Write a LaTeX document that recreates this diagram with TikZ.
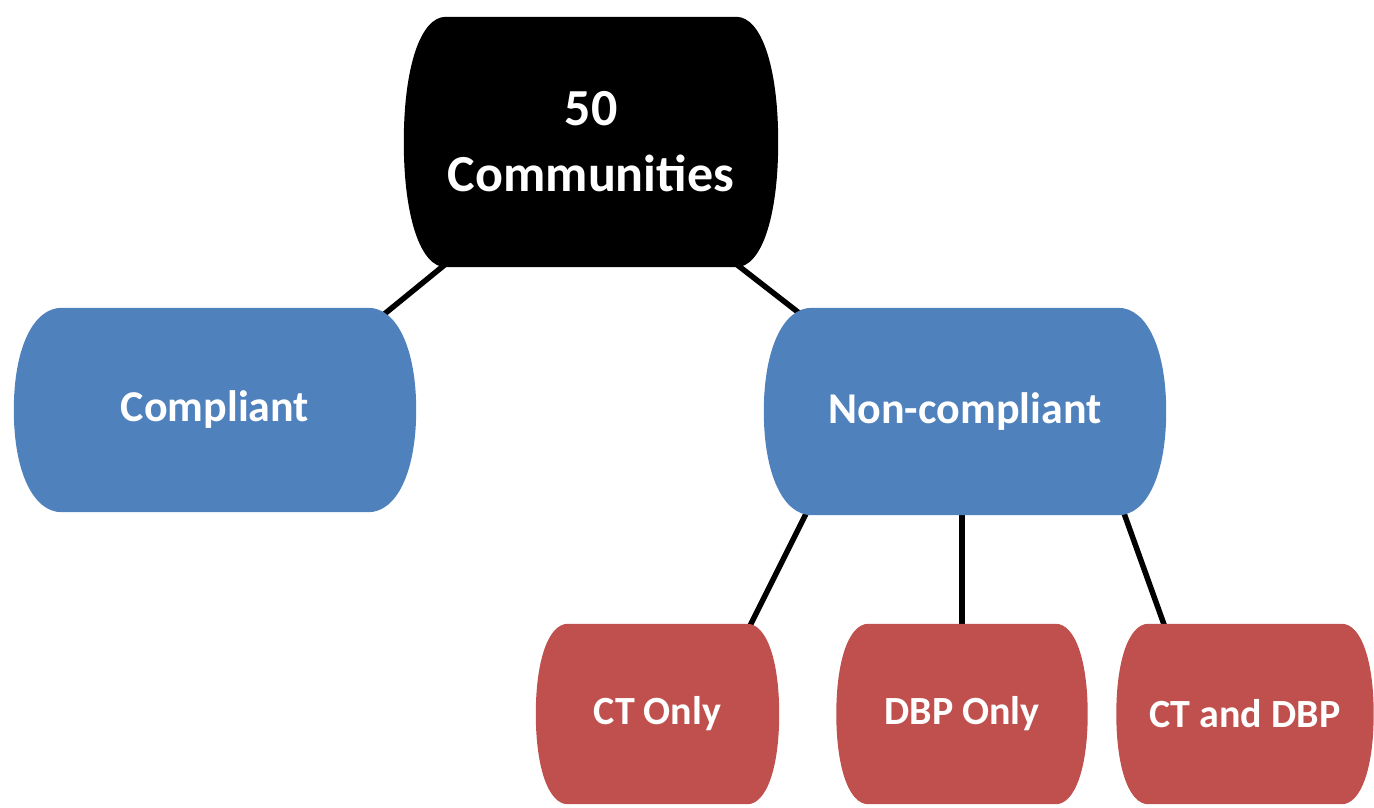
\documentclass[tikz,border=0pt]{standalone}
\usepackage{fontspec}
\setmainfont{Carlito}
\usetikzlibrary{backgrounds,calc}

\definecolor{boxblue}{HTML}{4F81BD}
\definecolor{boxred}{HTML}{C0504D}

% barrel shaped fill behind a node: node, side bulge, colour
\newcommand{\barrelfill}[3]{%
  \fill[#3] ([xshift=#2]#1.north west) -- ([xshift=-#2]#1.north east)
    .. controls ([xshift=-0.4*#2]#1.north east) and ($(#1.east)!0.6!(#1.north east)$) .. (#1.east)
    .. controls ($(#1.east)!0.6!(#1.south east)$) and ([xshift=-0.4*#2]#1.south east) .. ([xshift=-#2]#1.south east)
    -- ([xshift=#2]#1.south west)
    .. controls ([xshift=0.4*#2]#1.south west) and ($(#1.west)!0.6!(#1.south west)$) .. (#1.west)
    .. controls ($(#1.west)!0.6!(#1.north west)$) and ([xshift=0.4*#2]#1.north west) .. cycle;}

\tikzset{
  boxtext/.style={text=white, inner sep=0pt, align=center},
  link/.style={line width=5.5pt, shorten <=-40pt, shorten >=-40pt},
}

\begin{document}
\begin{tikzpicture}[x=1pt,y=-1pt]
  \useasboundingbox (0,0) rectangle (1374,807);

  \node[boxtext, minimum width=374pt, minimum height=250pt,
        font=\bfseries\fontsize{52}{66}\selectfont] (top) at (591,142) {50\\Communities};
  \node[boxtext, minimum width=402pt, minimum height=204pt,
        font=\bfseries\fontsize{44}{50}\selectfont] (comp) at (215,410) {Compliant};
  \node[boxtext, minimum width=402pt, minimum height=207pt,
        font=\bfseries\fontsize{44}{50}\selectfont] (noncomp) at (965,411.5) {Non-compliant};

  \node[boxtext, minimum width=243pt, minimum height=180pt,
        font=\bfseries\fontsize{40}{44}\selectfont] (ctonly) at (657.5,714) {CT Only};
  \node[boxtext, minimum width=251pt, minimum height=180pt,
        font=\bfseries\fontsize{40}{44}\selectfont] (dbponly) at (962,714) {DBP Only};
  \node[boxtext, minimum width=257pt, minimum height=180pt,
        font=\bfseries\fontsize{40}{44}\selectfont] (ctdbp) at (1245,714) {CT and DBP};

  \begin{scope}[on background layer]
    \draw[link] (top.220) -- (comp.30);
    \draw[link] (top.-40) -- (noncomp.149);
    \draw[link] (noncomp.213) -- (ctonly.44);
    \draw[link] (dbponly.north |- noncomp.south) -- (dbponly.north);
    \draw[link] (noncomp.-33) -- (ctdbp.132);

    \barrelfill{top}{42pt}{black}
    \barrelfill{comp}{48pt}{boxblue}
    \barrelfill{noncomp}{48pt}{boxblue}
    \barrelfill{ctonly}{32pt}{boxred}
    \barrelfill{dbponly}{32pt}{boxred}
    \barrelfill{ctdbp}{32pt}{boxred}
  \end{scope}
\end{tikzpicture}
\end{document}
